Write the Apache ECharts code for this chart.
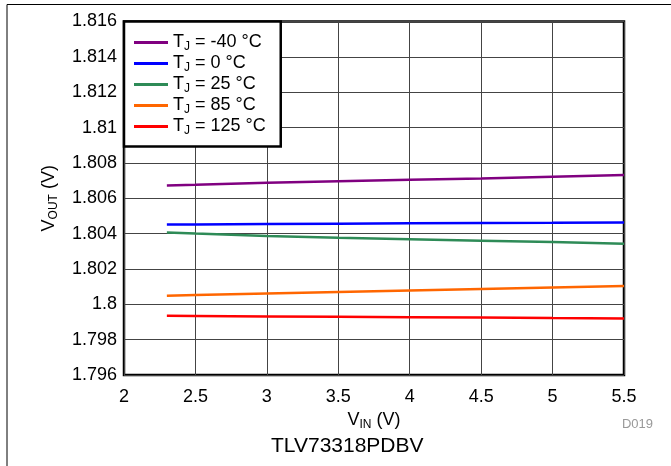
<!DOCTYPE html>
<html><head><meta charset="utf-8">
<script src="https://cdn.jsdelivr.net/npm/echarts@6/dist/echarts.min.js"></script>
<style>html,body{margin:0;padding:0;background:#fff}#c{width:671px;height:466px}</style>
</head><body><div id="c"></div>
<script>
var vin = [2.3, 2.5, 3.0, 3.5, 4.0, 4.5, 5.0, 5.5];
var tjM40 = [1.80672, 1.80676, 1.80688, 1.80696, 1.80704, 1.80712, 1.80722, 1.80731];
var tj0   = [1.80451, 1.80452, 1.80454, 1.80456, 1.80458, 1.80460, 1.80461, 1.80463];
var tj25  = [1.80406, 1.80400, 1.80387, 1.80377, 1.80368, 1.80360, 1.80352, 1.80343];
var tj85  = [1.80048, 1.80053, 1.80061, 1.80069, 1.80078, 1.80087, 1.80095, 1.80103];
var tj125 = [1.79935, 1.79934, 1.79931, 1.79929, 1.79927, 1.79925, 1.79922, 1.79920];
var seriesNames = ['-40 °C', '0 °C', '25 °C', '85 °C', '125 °C'];
var seriesData = [tjM40, tj0, tj25, tj85, tj125];
var colors = ['#800080', '#0000FF', '#2E8B57', '#FF6600', '#FF0000'];
var chartTitle = 'TLV73318PDBV';
var noteText = 'D019';

function pairs(xs, ys){ return xs.map(function(x,i){ return [x, ys[i]]; }); }
var FONT = '"Liberation Sans", Arial, sans-serif';
var chart = echarts.init(document.getElementById('c'));
var series = seriesNames.map(function(n, i){
  return {
    name: n, type: 'line', data: pairs(vin, seriesData[i]),
    showSymbol: false, symbol: 'none',
    lineStyle: {color: colors[i], width: 2.5},
    itemStyle: {color: colors[i]}, z: 3
  };
});
chart.setOption({
  animation: false,
  textStyle: {fontFamily: FONT},
  grid: {left: 124, top: 21.5, right: 47, bottom: 91, show: true, borderColor: '#000', borderWidth: 2.5, backgroundColor: '#fff'},
  xAxis: {
    type: 'value', min: 2, max: 5.5, interval: 0.5,
    axisLine: {show: false}, axisTick: {show: false},
    axisLabel: {color: '#000', fontSize: 18, fontFamily: FONT, margin: 13},
    splitLine: {show: true, lineStyle: {color: '#444', width: 1}},
    name: 'V{s|IN} (V)', nameLocation: 'middle', nameGap: 34,
    nameTextStyle: {color: '#000', fontSize: 18, fontFamily: FONT,
      rich: {s: {fontSize: 12, fontFamily: FONT, color: '#000', padding: [9,0,0,0]}}}
  },
  yAxis: {
    type: 'value', min: 1.796, max: 1.816, interval: 0.002,
    axisLine: {show: false}, axisTick: {show: false},
    axisLabel: {color: '#000', fontSize: 18, fontFamily: FONT, margin: 7,
      formatter: function(v){ return String(parseFloat(v.toFixed(3))); }},
    splitLine: {show: true, lineStyle: {color: '#444', width: 1}},
    name: 'V{s|OUT} (V)', nameLocation: 'middle', nameGap: 64, nameRotate: 90,
    nameTextStyle: {color: '#000', fontSize: 18, fontFamily: FONT,
      rich: {s: {fontSize: 12, fontFamily: FONT, color: '#000', padding: [9,0,0,0]}}}
  },
  legend: {
    orient: 'vertical', left: 124, top: 21.5,
    backgroundColor: '#fff', borderColor: '#000', borderWidth: 2.5, borderRadius: 0,
    padding: [11, 15, 10, 10], itemGap: 1, itemWidth: 34, itemHeight: 3,
    icon: 'rect',
    data: seriesNames,
    formatter: function(n){ return '{a|T}{s|J}{a| = ' + n + '}'; },
    textStyle: {color: '#000', fontSize: 18, fontFamily: FONT, lineHeight: 20,
      rich: {a: {fontSize: 18, fontFamily: FONT, color: '#000', lineHeight: 20},
             s: {fontSize: 12, fontFamily: FONT, color: '#000', padding: [8,0,0,0], lineHeight: 20}}}
  },
  graphic: [
    {type: 'line', shape: {x1: 7, y1: 4.5, x2: 671, y2: 4.5}, style: {stroke: '#000', lineWidth: 1}},
    {type: 'line', shape: {x1: 7, y1: 4.5, x2: 7, y2: 466}, style: {stroke: '#000', lineWidth: 1}},
    {type: 'text', left: 271, top: 436, style: {text: chartTitle, fill: '#000', fontSize: 21, fontFamily: FONT}},
    {type: 'text', right: 18, top: 418, style: {text: noteText, fill: '#999', fontSize: 13, fontFamily: FONT}}
  ],
  series: series
});
</script></body></html>
